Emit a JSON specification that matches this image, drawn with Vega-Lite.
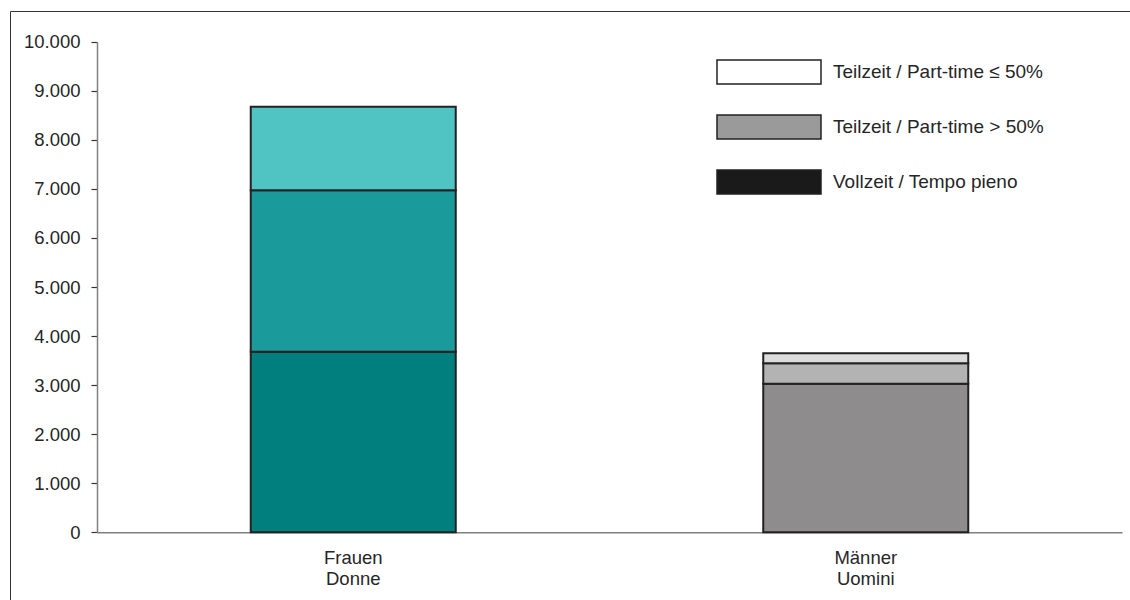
{
  "$schema": "https://vega.github.io/schema/vega-lite/v6.json",
  "width": 1125,
  "height": 593,
  "autosize": {"type": "none"},
  "padding": {"left": 10, "top": 11, "right": -5, "bottom": -4},
  "background": "white",
  "config": {
    "locale": {"number": {"decimal": ",", "thousands": ".", "grouping": [3], "currency": ["", " €"]}},
    "view": {"stroke": "#333333", "strokeWidth": 1},
    "font": "Liberation Sans",
    "axis": {
      "labelFont": "Liberation Sans",
      "labelFontSize": 18.5,
      "labelColor": "#262626",
      "grid": false,
      "title": null,
      "domainColor": "#808080",
      "domainWidth": 1.5
    }
  },
  "data": {
    "values": [
      {"sex": "Frauen Donne", "type": "Vollzeit / Tempo pieno", "level": 1, "group": "F1", "value": 3680},
      {"sex": "Frauen Donne", "type": "Teilzeit / Part-time > 50%", "level": 2, "group": "F2", "value": 3290},
      {"sex": "Frauen Donne", "type": "Teilzeit / Part-time ≤ 50%", "level": 3, "group": "F3", "value": 1705},
      {"sex": "Männer Uomini", "type": "Vollzeit / Tempo pieno", "level": 1, "group": "M1", "value": 3030},
      {"sex": "Männer Uomini", "type": "Teilzeit / Part-time > 50%", "level": 2, "group": "M2", "value": 415},
      {"sex": "Männer Uomini", "type": "Teilzeit / Part-time ≤ 50%", "level": 3, "group": "M3", "value": 205}
    ]
  },
  "encoding": {
    "x": {
      "field": "sex",
      "type": "nominal",
      "sort": ["Frauen Donne", "Männer Uomini"],
      "scale": {"range": [87, 1112], "paddingInner": 0.6, "paddingOuter": 0.3},
      "axis": {
        "orient": "bottom",
        "offset": -71.7,
        "ticks": false,
        "tickSize": 0,
        "labelAngle": 0,
        "labelPadding": 16,
        "labelLineHeight": 21.5,
        "labelExpr": "split(datum.value, ' ')"
      }
    },
    "y": {
      "field": "value",
      "type": "quantitative",
      "stack": "zero",
      "scale": {"domain": [0, 10000], "range": [521.3, 30.7], "nice": false},
      "axis": {
        "orient": "left",
        "offset": -87,
        "values": [0, 1000, 2000, 3000, 4000, 5000, 6000, 7000, 8000, 9000, 10000],
        "format": ",d",
        "tickSize": 6,
        "tickColor": "#333333",
        "tickWidth": 1.2,
        "labelPadding": 11
      }
    },
    "order": {"field": "level", "type": "quantitative"}
  },
  "layer": [
    {
      "mark": {"type": "bar", "stroke": "#222222", "strokeWidth": 2},
      "encoding": {
        "fill": {
          "field": "group",
          "type": "nominal",
          "scale": {
            "domain": ["F1", "F2", "F3", "M1", "M2", "M3"],
            "range": ["#007f7f", "#1a9a9a", "#50c3c3", "#8e8c8d", "#b3b3b3", "#dcdcdc"]
          },
          "legend": null
        }
      }
    },
    {
      "mark": {"type": "bar", "opacity": 0},
      "encoding": {
        "color": {
          "field": "type",
          "type": "nominal",
          "scale": {
            "domain": ["Teilzeit / Part-time ≤ 50%", "Teilzeit / Part-time > 50%", "Vollzeit / Tempo pieno"],
            "range": ["#ffffff", "#9a9a9a", "#1a1a1a"]
          },
          "legend": {
            "title": null,
            "orient": "none",
            "legendX": 732,
            "legendY": 34,
            "padding": 0,
            "symbolType": "M-2,-0.46H2V0.46H-2Z",
            "symbolSize": 2704,
            "symbolStrokeColor": "#222222",
            "symbolStrokeWidth": 1.5,
            "symbolOpacity": 1,
            "labelFont": "Liberation Sans",
            "labelFontSize": 19,
            "labelColor": "#262626",
            "labelOffset": 37,
            "labelLimit": 400,
            "rowPadding": 13
          }
        }
      }
    }
  ]
}
